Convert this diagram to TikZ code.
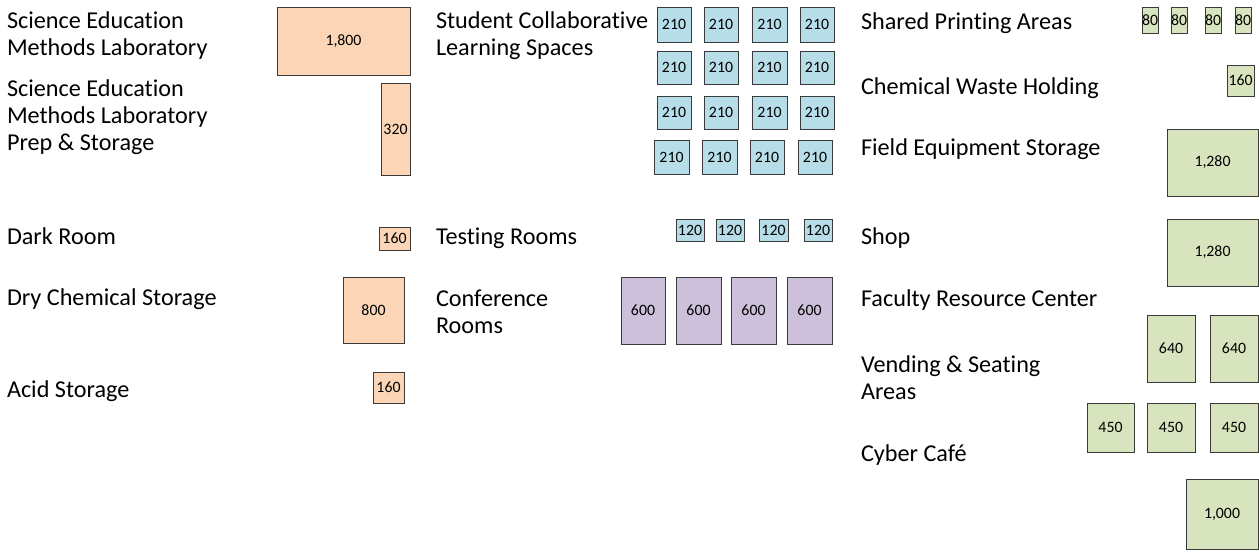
\documentclass[tikz,border=0pt]{standalone}
\usepackage{fontspec}
\setmainfont{Carlito}[Ligatures=NoCommon]
\definecolor{orng}{HTML}{FBD5B5}
\definecolor{aqua}{HTML}{B7DEE8}
\definecolor{lilac}{HTML}{CCC0DA}
\definecolor{olivefill}{HTML}{D7E4BD}
\definecolor{edgecol}{HTML}{3A3A3A}
\tikzset{
  lbl/.style={anchor=north west, inner sep=0pt, outer sep=0pt, align=left, font=\fontsize{24.2}{27}\selectfont},
  room/.style={draw=edgecol, line width=0.9pt, inner sep=0pt, outer sep=0pt, font=\fontsize{15.8}{18}\selectfont},
}
% name, fill, x1, y1, x2, y2, label
\newcommand\roombox[7]{\node[room, fill=#2, minimum width={(#5-#3)*1pt}, minimum height={(#6-#4)*1pt}] (#1) at ({(#3+#5)/2},{(#4+#6)/2}) {#7};}
% name, x, baseline, text
\newcommand\labeltext[4]{\node[lbl] (#1) at (#2,{#3-18.9}) {\strut #4};}
\begin{document}
\begin{tikzpicture}[x=1pt,y=-1pt]
\useasboundingbox[fill=white] (0,0) rectangle (1259,555);
% left column labels
\labeltext{semlab}{7}{28}{Science Education\\Methods Laboratory}
\labeltext{semprep}{7}{96}{Science Education\\Methods Laboratory\\Prep \& Storage}
\labeltext{dark}{7}{244}{Dark Room}
\labeltext{drychem}{7}{305}{Dry Chemical Storage}
\labeltext{acid}{7}{397}{Acid Storage}
% middle column labels
\labeltext{collab}{436}{28}{Student Collaborative\\Learning Spaces}
\labeltext{testing}{436}{244}{Testing Rooms}
\labeltext{conf}{436}{306}{Conference\\Rooms}
% right column labels
\labeltext{print}{861}{29}{Shared Printing Areas}
\labeltext{waste}{861}{94}{Chemical Waste Holding}
\labeltext{field}{861}{155}{Field Equipment Storage}
\labeltext{shop}{861}{244}{Shop}
\labeltext{faculty}{861}{306}{Faculty Resource Center}
\labeltext{vending}{861}{372}{Vending \& Seating\\Areas}
\labeltext{cyber}{861}{461}{Cyber Café}
% orange boxes
\roombox{b1800}{orng}{277}{7}{410}{75}{1,800}
\roombox{b320}{orng}{381}{83}{410}{175}{320}
\roombox{bdark}{orng}{379}{227}{410}{250}{160}
\roombox{b800}{orng}{343}{277}{404}{343}{800}
\roombox{bacid}{orng}{373}{372}{404}{403}{160}
% blue 210 boxes
\roombox{c11}{aqua}{657}{7}{691}{42}{210}
\roombox{c12}{aqua}{704}{7}{738}{42}{210}
\roombox{c13}{aqua}{752}{7}{787}{42}{210}
\roombox{c14}{aqua}{800}{7}{834}{42}{210}
\roombox{c21}{aqua}{657}{51}{691}{84}{210}
\roombox{c22}{aqua}{704}{51}{738}{84}{210}
\roombox{c23}{aqua}{752}{51}{787}{84}{210}
\roombox{c24}{aqua}{800}{51}{834}{84}{210}
\roombox{c31}{aqua}{657}{96}{691}{129}{210}
\roombox{c32}{aqua}{704}{96}{738}{129}{210}
\roombox{c33}{aqua}{752}{96}{787}{129}{210}
\roombox{c34}{aqua}{800}{96}{834}{129}{210}
\roombox{c41}{aqua}{654}{140}{689}{174}{210}
\roombox{c42}{aqua}{702}{140}{737}{174}{210}
\roombox{c43}{aqua}{750}{140}{784}{174}{210}
\roombox{c44}{aqua}{798}{140}{832}{174}{210}
% testing rooms
\roombox{t1}{aqua}{676}{219}{704}{241}{120}
\roombox{t2}{aqua}{716}{219}{744}{241}{120}
\roombox{t3}{aqua}{759}{219}{788}{241}{120}
\roombox{t4}{aqua}{804}{219}{832}{241}{120}
% conference rooms
\roombox{k1}{lilac}{621}{277}{665}{344}{600}
\roombox{k2}{lilac}{676}{277}{721}{344}{600}
\roombox{k3}{lilac}{731}{277}{776}{344}{600}
\roombox{k4}{lilac}{787}{277}{832}{344}{600}
% green boxes
\roombox{p1}{olivefill}{1142}{7}{1158}{33}{80}
\roombox{p2}{olivefill}{1171}{7}{1187}{33}{80}
\roombox{p3}{olivefill}{1205}{7}{1221}{33}{80}
\roombox{p4}{olivefill}{1235}{7}{1251}{33}{80}
\roombox{bwaste}{olivefill}{1227}{65}{1254}{96}{160}
\roombox{bfield}{olivefill}{1167}{129}{1258}{196}{1,280}
\roombox{bshop}{olivefill}{1167}{219}{1258}{286}{1,280}
\roombox{f1}{olivefill}{1147}{315}{1195}{382}{640}
\roombox{f2}{olivefill}{1210}{315}{1258}{382}{640}
\roombox{v1}{olivefill}{1087}{403}{1134}{452}{450}
\roombox{v2}{olivefill}{1147}{403}{1195}{452}{450}
\roombox{v3}{olivefill}{1210}{403}{1258}{452}{450}
\roombox{bcyber}{olivefill}{1186}{479}{1258}{549}{1,000}
\end{tikzpicture}
\end{document}
